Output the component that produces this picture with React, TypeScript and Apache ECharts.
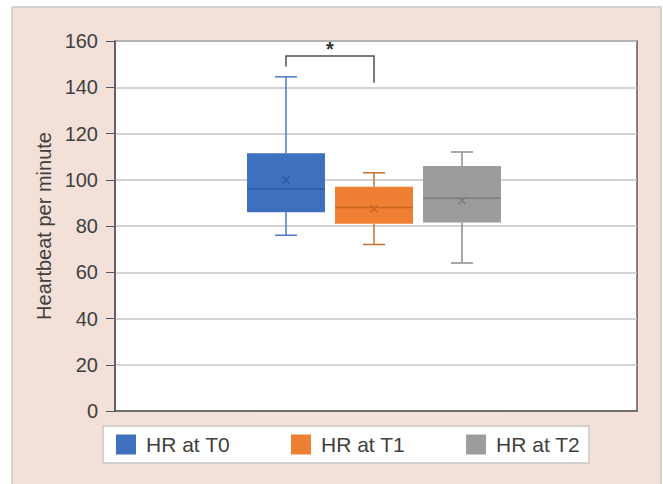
import React, { useEffect, useRef } from "react";
import * as echarts from "echarts";

const categories = ["HR at T0", "HR at T1", "HR at T2"];
const minValues = [76, 72, 64];
const q1Values = [86, 81, 81.5];
const medianValues = [96, 88, 92];
const q3Values = [111.5, 97, 106];
const maxValues = [144.5, 103, 112];
const meanValues = [100, 87.5, 91];

const fillColors = ["#3f6fbf", "#ef7f33", "#9c9c9c"];
const whiskerColors = ["#4a7acb", "#c7702c", "#8c8c8c"];
const medianColors = ["#2e5a9f", "#c9651f", "#7d7d7d"];

// significance bracket between T0 and T1
const bracketFrom = 0;
const bracketTo = 1;
const bracketTop = 153.5;
const bracketLeftEnd = 149;
const bracketRightEnd = 142;
const starLevel = 156.5;

const FONT = "Liberation Sans, Arial, sans-serif";
const TEXT = "#404040";
const AXIS = "#595959";

export default function App() {
  const ref = useRef<HTMLDivElement>(null);
  useEffect(() => {
    if (!ref.current) return;
    const chart = echarts.init(ref.current, undefined, { renderer: "svg" });

    const series: any[] = categories.map((name, i) => ({
      name,
      type: "custom",
      xAxisIndex: 1,
      yAxisIndex: 1,
      itemStyle: { color: fillColors[i] },
      data: [[i, minValues[i], q1Values[i], medianValues[i], q3Values[i], maxValues[i], meanValues[i]]],
      renderItem: (params: any, api: any) => {
        const x = api.value(0);
        const band = api.size([1, 0])[0];
        const bw = band * 0.886;
        const cw = band * 0.25;
        const pMin = api.coord([x, api.value(1)]);
        const pQ1 = api.coord([x, api.value(2)]);
        const pMed = api.coord([x, api.value(3)]);
        const pQ3 = api.coord([x, api.value(4)]);
        const pMax = api.coord([x, api.value(5)]);
        const pMean = api.coord([x, api.value(6)]);
        const cx = pMin[0];
        const ws = { stroke: whiskerColors[i], lineWidth: 1.5 };
        const ms = { stroke: medianColors[i], lineWidth: 1.5 };
        const m = 3.5;
        return {
          type: "group",
          children: [
            { type: "line", shape: { x1: cx, y1: pMax[1], x2: cx, y2: pQ3[1] }, style: ws },
            { type: "line", shape: { x1: cx, y1: pQ1[1], x2: cx, y2: pMin[1] }, style: ws },
            { type: "line", shape: { x1: cx - cw / 2, y1: pMax[1], x2: cx + cw / 2, y2: pMax[1] }, style: ws },
            { type: "line", shape: { x1: cx - cw / 2, y1: pMin[1], x2: cx + cw / 2, y2: pMin[1] }, style: ws },
            {
              type: "rect",
              shape: { x: cx - bw / 2, y: pQ3[1], width: bw, height: pQ1[1] - pQ3[1] },
              style: { fill: fillColors[i] },
            },
            { type: "line", shape: { x1: cx - bw / 2, y1: pMed[1], x2: cx + bw / 2, y2: pMed[1] }, style: ms },
            { type: "line", shape: { x1: cx - m, y1: pMean[1] - m, x2: cx + m, y2: pMean[1] + m }, style: ms },
            { type: "line", shape: { x1: cx - m, y1: pMean[1] + m, x2: cx + m, y2: pMean[1] - m }, style: ms },
          ],
        };
      },
    }));

    chart.setOption({
      animation: false,
      backgroundColor: "#ffffff",
      textStyle: { fontFamily: FONT },
      grid: [
        {
          left: 115,
          right: 26,
          top: 41,
          bottom: 73,
          show: true,
          backgroundColor: "#ffffff",
          borderColor: AXIS,
          borderWidth: 1.5,
          containLabel: false,
        },
        { left: 242, right: 157, top: 41, bottom: 73, containLabel: false },
      ],
      xAxis: [
        {
          type: "category",
          gridIndex: 0,
          data: [""],
          axisLine: { show: true, lineStyle: { color: AXIS, width: 1.5 } },
          axisTick: { show: false },
          axisLabel: { show: false },
        },
        {
          type: "category",
          gridIndex: 1,
          data: categories,
          show: false,
        },
      ],
      yAxis: [
        {
          type: "value",
          gridIndex: 0,
          min: 0,
          max: 160,
          interval: 20,
          name: "Heartbeat per minute",
          nameLocation: "middle",
          nameGap: 58,
          nameTextStyle: { fontSize: 20, color: TEXT, fontFamily: FONT },
          axisLine: { show: true, lineStyle: { color: AXIS, width: 1.5 } },
          axisTick: { show: true, length: 9, lineStyle: { color: AXIS } },
          axisLabel: { fontSize: 20, color: TEXT, margin: 17, fontFamily: FONT },
          splitLine: { show: true, lineStyle: { color: "#c4c4c4", width: 1.5 } },
        },
        {
          type: "value",
          gridIndex: 1,
          min: 0,
          max: 160,
          interval: 20,
          show: false,
          splitLine: { show: false },
        },
      ],
      legend: {
        left: 103,
        top: 426,
        orient: "horizontal",
        backgroundColor: "#ffffff",
        borderColor: "#c8c8c8",
        borderWidth: 1.5,
        padding: [8, 9, 8, 13],
        itemWidth: 20,
        itemHeight: 20,
        itemGap: 61,
        icon: "rect",
        textStyle: { fontSize: 21, color: TEXT, fontFamily: FONT, padding: [0, 0, 0, 5] },
        data: categories.map((name, i) => ({ name, itemStyle: { color: fillColors[i] } })),
      },
      series,
    });

    const pL = chart.convertToPixel({ gridIndex: 1 }, [bracketFrom, bracketTop]) as number[];
    const pLe = chart.convertToPixel({ gridIndex: 1 }, [bracketFrom, bracketLeftEnd]) as number[];
    const pR = chart.convertToPixel({ gridIndex: 1 }, [bracketTo, bracketTop]) as number[];
    const pRe = chart.convertToPixel({ gridIndex: 1 }, [bracketTo, bracketRightEnd]) as number[];
    const pStar = chart.convertToPixel({ gridIndex: 1 }, [bracketFrom, starLevel]) as number[];

    chart.setOption({
      graphic: [
        {
          type: "rect",
          id: "panel",
          z: -10,
          silent: true,
          shape: { x: 12, y: 7, width: 649, height: 490 },
          style: { fill: "#f3e0d9", stroke: "#c9c9c9", lineWidth: 1.5 },
        },
        {
          type: "polyline",
          id: "bracket",
          z: 10,
          shape: {
            points: [
              [pLe[0], pLe[1]],
              [pL[0], pL[1]],
              [pR[0], pR[1]],
              [pRe[0], pRe[1]],
            ],
          },
          style: { stroke: "#505050", lineWidth: 1.5, fill: null },
        },
        {
          type: "text",
          id: "star",
          z: 10,
          x: (pL[0] + pR[0]) / 2,
          y: pStar[1],
          style: {
            text: "*",
            fontSize: 20,
            fontWeight: "bold",
            fontFamily: FONT,
            fill: "#303030",
            align: "center",
            verticalAlign: "middle",
          },
        },
      ],
    });

    return () => chart.dispose();
  }, []);
  return (
    <div
      ref={ref}
      style={{ position: "absolute", left: 0, top: 0, width: 663, height: 484 }}
    />
  );
}
